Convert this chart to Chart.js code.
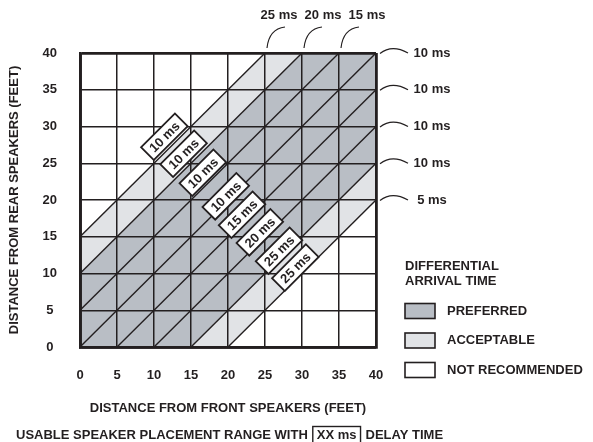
<!DOCTYPE html>
<html>
<head>
<meta charset="utf-8">
<script src="https://cdn.jsdelivr.net/npm/chart.js@4.4.1/dist/chart.umd.min.js"></script>
<style>
  html, body { margin: 0; padding: 0; background: #fff; }
  canvas { display: block; }
</style>
</head>
<body>
<canvas id="delayChart" width="593" height="442"></canvas>
<script>
// grid ticks (feet) on both axes
const axisTicks = [0, 5, 10, 15, 20, 25, 30, 35, 40];
// diagonal lines y = x + offset
const diagonalOffsets = [15, 10, 5, 0, -5, -10, -15, -20];
// shaded bands between y = x + from and y = x + to
const bandFrom = [10, -15, -20];
const bandTo = [15, 10, -15];
const bandZone = ['ACCEPTABLE', 'PREFERRED', 'ACCEPTABLE'];
// legend
const zoneNames = ['PREFERRED', 'ACCEPTABLE', 'NOT RECOMMENDED'];
const zoneColors = ['#b9bec5', '#e1e3e6', '#ffffff'];
// boxed delay labels along the diagonal
const delayLabels = ['10 ms', '10 ms', '10 ms', '10 ms', '15 ms', '20 ms', '25 ms', '25 ms'];
const delayX = [11.4, 14.0, 16.6, 19.7, 21.9, 24.3, 26.9, 29.1];
const delayY = [28.6, 26.3, 23.7, 20.5, 18.0, 15.6, 13.1, 10.8];
// callouts at the ends of the diagonals
const topCalloutX = [25, 30, 35];
const topCalloutLabels = ['25 ms', '20 ms', '15 ms'];
const rightCalloutY = [40, 35, 30, 25, 20];
const rightCalloutLabels = ['10 ms', '10 ms', '10 ms', '10 ms', '5 ms'];

const ink = '#231f20';
const family = '"Liberation Sans", Arial, Helvetica, sans-serif';
const boldFont = (size) => 'bold ' + size + 'px ' + family;

const bandsPlugin = {
  id: 'bands',
  beforeDatasetsDraw(chart) {
    const {ctx, chartArea: a, scales: {x, y}} = chart;
    ctx.save();
    ctx.beginPath();
    ctx.rect(a.left, a.top, a.right - a.left, a.bottom - a.top);
    ctx.clip();
    bandFrom.forEach((lo, i) => {
      const hi = bandTo[i];
      ctx.fillStyle = zoneColors[zoneNames.indexOf(bandZone[i])];
      ctx.beginPath();
      ctx.moveTo(x.getPixelForValue(-40), y.getPixelForValue(-40 + lo));
      ctx.lineTo(x.getPixelForValue(80), y.getPixelForValue(80 + lo));
      ctx.lineTo(x.getPixelForValue(80), y.getPixelForValue(80 + hi));
      ctx.lineTo(x.getPixelForValue(-40), y.getPixelForValue(-40 + hi));
      ctx.closePath();
      ctx.fill();
    });
    ctx.restore();
  }
};

const notesPlugin = {
  id: 'notes',
  afterDraw(chart) {
    const {ctx, scales: {x, y}} = chart;
    ctx.save();
    ctx.fillStyle = ink;
    ctx.strokeStyle = ink;
    ctx.textBaseline = 'middle';

    // boxed labels, rotated 45 degrees
    ctx.font = boldFont(13);
    delayLabels.forEach((t, i) => {
      const px = x.getPixelForValue(delayX[i]);
      const py = y.getPixelForValue(delayY[i]);
      ctx.save();
      ctx.translate(px, py);
      ctx.rotate(-Math.PI / 4);
      const w = ctx.measureText(t).width + 11;
      const h = 18;
      ctx.fillStyle = '#fff';
      ctx.fillRect(-w / 2, -h / 2, w, h);
      ctx.lineWidth = 1.8;
      ctx.strokeRect(-w / 2, -h / 2, w, h);
      ctx.fillStyle = ink;
      ctx.textAlign = 'center';
      ctx.fillText(t, 0, 1);
      ctx.restore();
    });

    // callouts on top edge
    ctx.font = boldFont(13);
    ctx.textAlign = 'center';
    ctx.lineWidth = 1.2;
    topCalloutX.forEach((v, i) => {
      const ax = x.getPixelForValue(v);
      const ay = y.getPixelForValue(40);
      ctx.fillText(topCalloutLabels[i], ax + 14 + 7 * i, ay - 38);
      ctx.beginPath();
      ctx.moveTo(ax + 20, ay - 26);
      ctx.quadraticCurveTo(ax + 4, ay - 24, ax + 2, ay - 5);
      ctx.stroke();
    });

    // callouts on right edge
    rightCalloutY.forEach((v, i) => {
      const ax = x.getPixelForValue(40);
      const ay = y.getPixelForValue(v);
      ctx.fillText(rightCalloutLabels[i], ax + 56, ay);
      ctx.beginPath();
      ctx.moveTo(ax + 4, ay + 0.5);
      ctx.quadraticCurveTo(ax + 16, ay - 9, ax + 32, ay);
      ctx.stroke();
    });

    // legend
    ctx.textAlign = 'left';
    ctx.fillText('DIFFERENTIAL', 405, 266);
    ctx.fillText('ARRIVAL TIME', 405, 281);
    zoneNames.forEach((name, i) => {
      const ty = 311 + i * 29.5;
      ctx.fillStyle = zoneColors[i];
      ctx.fillRect(405, ty - 7.5, 30, 15);
      ctx.lineWidth = 1.6;
      ctx.strokeRect(405, ty - 7.5, 30, 15);
      ctx.fillStyle = ink;
      ctx.fillText(name, 447, ty);
    });

    // caption
    const cy = 435;
    let cx = 16;
    const p1 = 'USABLE SPEAKER PLACEMENT RANGE WITH';
    ctx.fillText(p1, cx, cy);
    cx += ctx.measureText(p1).width + 5;
    const bw = ctx.measureText('XX ms').width + 8;
    ctx.lineWidth = 1.4;
    ctx.strokeRect(cx, cy - 8.5, bw, 17);
    ctx.fillText('XX ms', cx + 4, cy + 0.5);
    cx += bw + 5;
    ctx.fillText('DELAY TIME', cx, cy);
    ctx.restore();
  }
};

const edgeWidth = (c) => (c.tick && (c.tick.value === 0 || c.tick.value === 40)) ? 2.8 : 1.5;
const tickFont = {family: family, size: 13, weight: 'bold'};

new Chart(document.getElementById('delayChart'), {
  type: 'scatter',
  data: {
    datasets: diagonalOffsets.map(d => ({
      data: [
        {x: Math.max(0, -d), y: Math.max(0, d)},
        {x: Math.min(40, 40 - d), y: Math.min(40, 40 + d)}
      ],
      showLine: true,
      borderColor: ink,
      borderWidth: 1.4,
      pointRadius: 0
    }))
  },
  options: {
    responsive: false,
    animation: false,
    events: [],
    layout: {padding: {top: 53, right: 217, bottom: 0, left: 0}},
    plugins: {legend: {display: false}, tooltip: {enabled: false}},
    scales: {
      x: {
        type: 'linear', min: 0, max: 40,
        afterBuildTicks: s => { s.ticks = axisTicks.map(v => ({value: v})); },
        afterFit: s => { s.height = 95; },
        ticks: {padding: 21, color: ink, font: tickFont},
        grid: {color: ink, lineWidth: edgeWidth, drawTicks: false, z: 1},
        border: {color: ink, width: 2.8, z: 1},
        title: {display: true, text: 'DISTANCE FROM FRONT SPEAKERS (FEET)', color: ink, font: tickFont, padding: {top: 0, bottom: 26}}
      },
      y: {
        type: 'linear', min: 0, max: 40,
        afterBuildTicks: s => { s.ticks = axisTicks.map(v => ({value: v})); },
        afterFit: s => { s.width = 80; },
        ticks: {padding: 23, crossAlign: 'center', color: ink, font: tickFont},
        grid: {color: ink, lineWidth: edgeWidth, drawTicks: false, z: 1},
        border: {color: ink, width: 2.8, z: 1},
        title: {display: true, text: 'DISTANCE FROM REAR SPEAKERS (FEET)', color: ink, font: tickFont, padding: {top: 7, bottom: 0}}
      }
    }
  },
  plugins: [bandsPlugin, notesPlugin]
});
</script>
</body>
</html>
